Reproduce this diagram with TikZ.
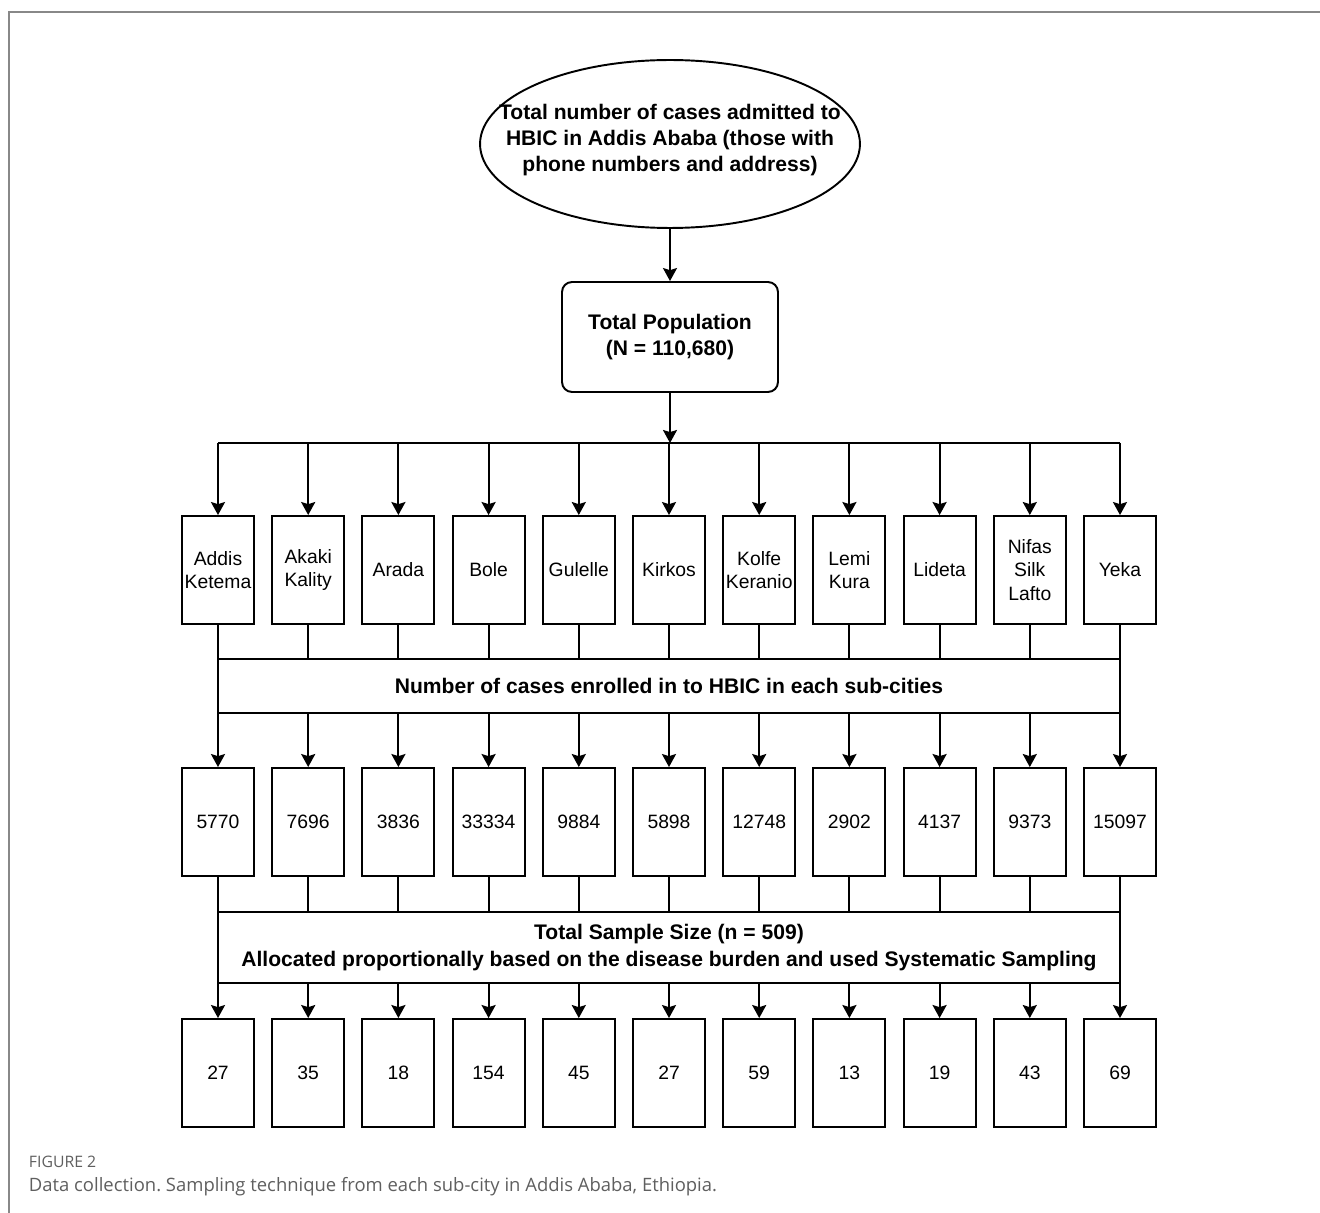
\documentclass[tikz,border=0pt]{standalone}
\usepackage{fontspec}
\setmainfont{Liberation Sans}
\newfontfamily\capfont{Open Sans}
\usetikzlibrary{shapes.geometric,arrows.meta}
\definecolor{framegray}{RGB}{136,136,136}
\definecolor{capgray}{RGB}{95,95,95}
\frenchspacing
\begin{document}
\begin{tikzpicture}[x=0.02cm, y=-0.02cm, line width=1.1pt,
    arr/.style={-{Stealth[length=7.4pt, width=8pt, inset=1.2pt]}},
    cityBox/.style={draw, minimum width=1.44cm, minimum height=2.16cm, inner sep=0pt,
        align=center, font=\fontsize{11}{13.2}\selectfont},
    bandBox/.style={draw, minimum width=18.04cm, inner sep=0pt, align=center,
        font=\bfseries\fontsize{12}{15.3}\selectfont}]
    \useasboundingbox (0,0) rectangle (1320,1213);
    % frame of the figure
    \draw[framegray, line width=1.2pt] (9,1213) -- (9,12) -- (1320,12);

    \node[ellipse, draw, minimum width=7.6cm, minimum height=3.36cm, inner sep=0pt] (cases) at (670,144) {};
    \node[align=center, inner sep=0pt, font=\bfseries\fontsize{12}{14.7}\selectfont] (casesText) at (670,140)
        {Total number of cases admitted to\\HBIC in Addis Ababa (those with\\phone numbers and address)};
    \node[draw, rounded corners=0.2cm, minimum width=4.32cm, minimum height=2.2cm,
        align=center, font=\bfseries\fontsize{12}{15.3}\selectfont] (pop) at (670,337)
        {Total Population\\(N = 110,680)};
    \coordinate (busTop) at (670,443);
    \draw[arr] (cases) -- (pop);
    \draw[arr] (pop) -- (busTop);

    \node[bandBox, minimum height=1.08cm] (enrol) at (669,686)
        {Number of cases enrolled in to HBIC in each sub-cities};
    \node[bandBox, minimum height=1.42cm] (sample) at (669,947.5)
        {Total Sample Size (n = 509)\\Allocated proportionally based on the disease burden and used Systematic Sampling};

    \foreach \nm/\cnt/\smp [count=\i] in {{Addis\\Ketema}/5770/27, {Akaki\\Kality}/7696/35,
            Arada/3836/18, Bole/33334/154, Gulelle/9884/45, Kirkos/5898/27,
            {Kolfe\\Keranio}/12748/59, {Lemi\\Kura}/2902/13, Lideta/4137/19,
            {Nifas\\Silk\\Lafto}/9373/43, Yeka/15097/69} {
        \node[cityBox] (c\i) at ({218+90.2*(\i-1)},570) {\nm};
        \node[cityBox] (n\i) at ({218+90.2*(\i-1)},822) {\cnt};
        \node[cityBox] (s\i) at ({218+90.2*(\i-1)},1073) {\smp};
        \draw[arr] (c\i.north |- busTop) -- (c\i.north);
        \draw (c\i.south) -- (c\i.south |- enrol.north);
        \draw[arr] (n\i.north |- enrol.south) -- (n\i.north);
        \draw (n\i.south) -- (n\i.south |- sample.north);
        \draw[arr] (s\i.north |- sample.south) -- (s\i.north);
    }
    \draw (c1.north |- busTop) -- (c11.north |- busTop);

    % caption
    \node[anchor=base west, inner sep=0pt, text=capgray, font=\capfont\fontsize{9}{10}\selectfont]
        (figlabel) at (28,1167) {FIGURE 2};
    \node[anchor=base west, inner sep=0pt, text=capgray, font=\capfont\fontsize{10.5}{12}\selectfont]
        (figcaption) at (28,1191) {Data collection. Sampling technique from each sub-city in Addis Ababa, Ethiopia.};
\end{tikzpicture}
\end{document}
